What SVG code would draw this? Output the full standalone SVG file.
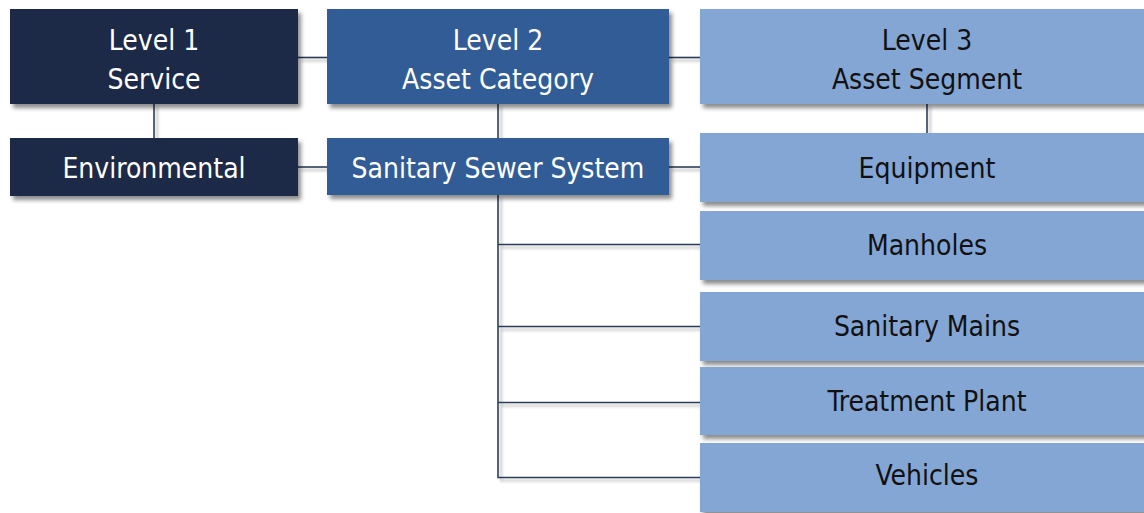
<svg xmlns="http://www.w3.org/2000/svg" width="1144" height="513" viewBox="0 0 1144 513">
<defs>
<filter id="sh" x="-5%" y="-20%" width="115%" height="150%">
<feDropShadow dx="3" dy="4" stdDeviation="2.2" flood-color="#000" flood-opacity="0.45"/>
</filter>
<filter id="lsh" filterUnits="userSpaceOnUse" x="0" y="0" width="1144" height="513">
<feDropShadow dx="3" dy="3" stdDeviation="1.5" flood-color="#000" flood-opacity="0.3"/>
</filter>
<style>
.l1{fill:#1B2A47;filter:url(#sh)}
.l2{fill:#325C96;filter:url(#sh)}
.l3{fill:#84A6D4;filter:url(#sh)}
.con{stroke:#2C3E58;stroke-width:1.6;fill:none}
text{font-family:"DejaVu Sans Condensed","DejaVu Sans",sans-serif;font-size:28px;text-anchor:middle}
.w{fill:#FFFFFF}
.k{fill:#111111}
</style>
</defs>
<g id="connectors" filter="url(#lsh)">
<line class="con" x1="298" y1="57.5" x2="327" y2="57.5"/>
<line class="con" x1="669" y1="57.5" x2="700" y2="57.5"/>
<line class="con" x1="154" y1="104" x2="154" y2="138"/>
<line class="con" x1="498" y1="104" x2="498" y2="138"/>
<line class="con" x1="927" y1="104" x2="927" y2="133"/>
<line class="con" x1="298" y1="167" x2="327" y2="167"/>
<line class="con" x1="669" y1="167" x2="700" y2="167"/>
<path class="con" d="M498 195 V477.5 H700 M498 244.5 H700 M498 326.5 H700 M498 402.5 H700"/>
</g>
<g id="level1">
<rect class="l1" x="10" y="9" width="288" height="95"/>
<text class="w" x="154" y="50">Level 1</text>
<text class="w" x="154" y="89">Service</text>
</g>
<g id="level2">
<rect class="l2" x="327" y="9" width="342" height="95"/>
<text class="w" x="498" y="50">Level 2</text>
<text class="w" x="498" y="89">Asset Category</text>
</g>
<g id="level3">
<rect class="l3" x="700" y="9" width="454" height="95"/>
<text class="k" x="927" y="50">Level 3</text>
<text class="k" x="927" y="89">Asset Segment</text>
</g>
<g id="environmental">
<rect class="l1" x="10" y="138" width="288" height="58"/>
<text class="w" x="154" y="178">Environmental</text>
</g>
<g id="sanitary-sewer-system">
<rect class="l2" x="327" y="138" width="342" height="57"/>
<text class="w" x="498" y="178">Sanitary Sewer System</text>
</g>
<g id="equipment">
<rect class="l3" x="700" y="133" width="454" height="69"/>
<text class="k" x="927" y="178">Equipment</text>
</g>
<g id="manholes">
<rect class="l3" x="700" y="211" width="454" height="69"/>
<text class="k" x="927" y="255">Manholes</text>
</g>
<g id="sanitary-mains">
<rect class="l3" x="700" y="292" width="454" height="69"/>
<text class="k" x="927" y="336">Sanitary Mains</text>
</g>
<g id="treatment-plant">
<rect class="l3" x="700" y="367" width="454" height="68"/>
<text class="k" x="927" y="411">Treatment Plant</text>
</g>
<g id="vehicles">
<rect class="l3" x="700" y="443" width="454" height="69"/>
<text class="k" x="927" y="485">Vehicles</text>
</g>
</svg>
